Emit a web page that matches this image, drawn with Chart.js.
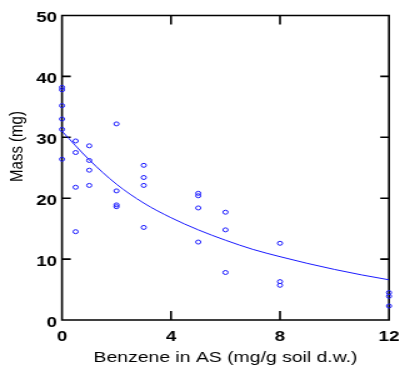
<!DOCTYPE html>
<html>
<head>
<meta charset="utf-8">
<script src="https://cdn.jsdelivr.net/npm/chart.js@4"></script>
<style>
  html, body { margin: 0; padding: 0; background: #fff; overflow: hidden; }
  /* the figure is a bit wider than tall, so the canvas gets stretched sideways */
  #wrap { width: 322px; height: 372px; transform: scaleX(1.25); transform-origin: 0 0; }
</style>
</head>
<body>
<div id="wrap"><canvas id="chart" width="322" height="372"></canvas></div>
<script>
// measured mass per benzene dose
const doseX = [0, 0, 0, 0, 0, 0,
               0.5, 0.5, 0.5, 0.5,
               1, 1, 1, 1,
               2, 2, 2, 2,
               3, 3, 3, 3,
               5, 5, 5, 5,
               6, 6, 6,
               8, 8, 8,
               12, 12, 12];
const massY = [38.2, 37.8, 35.2, 33.0, 31.3, 26.4,
               29.4, 27.5, 21.8, 14.5,
               28.6, 26.2, 24.6, 22.1,
               32.2, 21.2, 18.9, 18.6,
               25.4, 23.4, 22.1, 15.2,
               20.8, 20.4, 18.4, 12.8,
               17.7, 14.8, 7.8,
               12.6, 6.3, 5.7,
               4.5, 3.9, 2.3];

// fitted curve
const fitX = [0, 1, 2, 3, 4, 5, 6, 7, 8, 9, 10, 11, 12];
const fitY = [31.0, 26.3, 22.3, 19.2, 16.8, 14.8, 13.1, 11.6, 10.4, 9.3, 8.3, 7.4, 6.6];

const xTicks = [0, 4, 8, 12];
const yTicks = [0, 10, 20, 30, 40, 50];

const blue = '#1a1aff';
const FONT = '"Liberation Sans", Arial, Helvetica, sans-serif';

// box around the plot with inward ticks on all four sides, plus the y title
const frameTicks = {
  id: 'frameTicks',
  beforeDatasetsDraw(chart) {
    const { ctx, chartArea: a, scales: { x, y } } = chart;
    ctx.save();
    ctx.strokeStyle = '#000';
    ctx.lineWidth = 1.6;
    ctx.beginPath();
    ctx.rect(a.left, a.top, a.right - a.left, a.bottom - a.top);
    xTicks.forEach(v => {
      const px = x.getPixelForValue(v);
      ctx.moveTo(px, a.bottom); ctx.lineTo(px, a.bottom - 9);
      ctx.moveTo(px, a.top); ctx.lineTo(px, a.top + 9);
    });
    yTicks.forEach(v => {
      const py = y.getPixelForValue(v);
      ctx.moveTo(a.left, py); ctx.lineTo(a.left + 7, py);
      ctx.moveTo(a.right, py); ctx.lineTo(a.right - 7, py);
    });
    ctx.stroke();
    ctx.restore();
  },
  afterDraw(chart) {
    const ctx = chart.ctx;
    ctx.save();
    ctx.translate(14, 146.5);
    ctx.rotate(-Math.PI / 2);
    ctx.fillStyle = '#000';
    ctx.font = '15px ' + FONT;
    ctx.textAlign = 'center';
    ctx.textBaseline = 'middle';
    ctx.fillText('Mass (mg)', 0, 0);
    ctx.restore();
  }
};

const points = doseX.map((v, i) => ({ x: v, y: massY[i] }));
const curve = fitX.map((v, i) => ({ x: v, y: fitY[i] }));

new Chart(document.getElementById('chart'), {
  type: 'scatter',
  data: {
    datasets: [{
      data: points,
      pointStyle: 'circle',
      pointRadius: 2,
      pointBorderWidth: 1,
      pointBorderColor: blue,
      pointBackgroundColor: 'rgba(0,0,0,0)',
      clip: false
    }, {
      data: curve,
      showLine: true,
      borderColor: blue,
      borderWidth: 1,
      pointRadius: 0,
      cubicInterpolationMode: 'monotone'
    }]
  },
  options: {
    responsive: false,
    animation: false,
    layout: { padding: { left: 0, right: 10.8, top: 15.5, bottom: 0 } },
    plugins: { legend: { display: false }, tooltip: { enabled: false } },
    scales: {
      x: {
        type: 'linear', min: 0, max: 12,
        afterFit: s => { s.height = 52; s.paddingLeft = 0; s.paddingRight = 0; },
        afterBuildTicks: s => { s.ticks = xTicks.map(v => ({ value: v })); },
        grid: { display: false, drawTicks: false },
        border: { display: false },
        ticks: { color: '#000', padding: 7.5, maxRotation: 0, font: { family: FONT, size: 15, weight: 'bold' } },
        title: { display: true, text: 'Benzene in AS (mg/g soil d.w.)', color: '#000',
                 padding: { top: 0, bottom: 5 }, font: { family: FONT, size: 15.5 } }
      },
      y: {
        type: 'linear', min: 0, max: 50,
        afterFit: s => { s.width = 49.6; s.paddingTop = 0; s.paddingBottom = 0; },
        afterBuildTicks: s => { s.ticks = yTicks.map(v => ({ value: v })); },
        grid: { display: false, drawTicks: false },
        border: { display: false },
        ticks: { color: '#000', padding: 4, labelOffset: 2.5, font: { family: FONT, size: 15, weight: 'bold' } }
      }
    }
  },
  plugins: [frameTicks]
});
</script>
</body>
</html>
